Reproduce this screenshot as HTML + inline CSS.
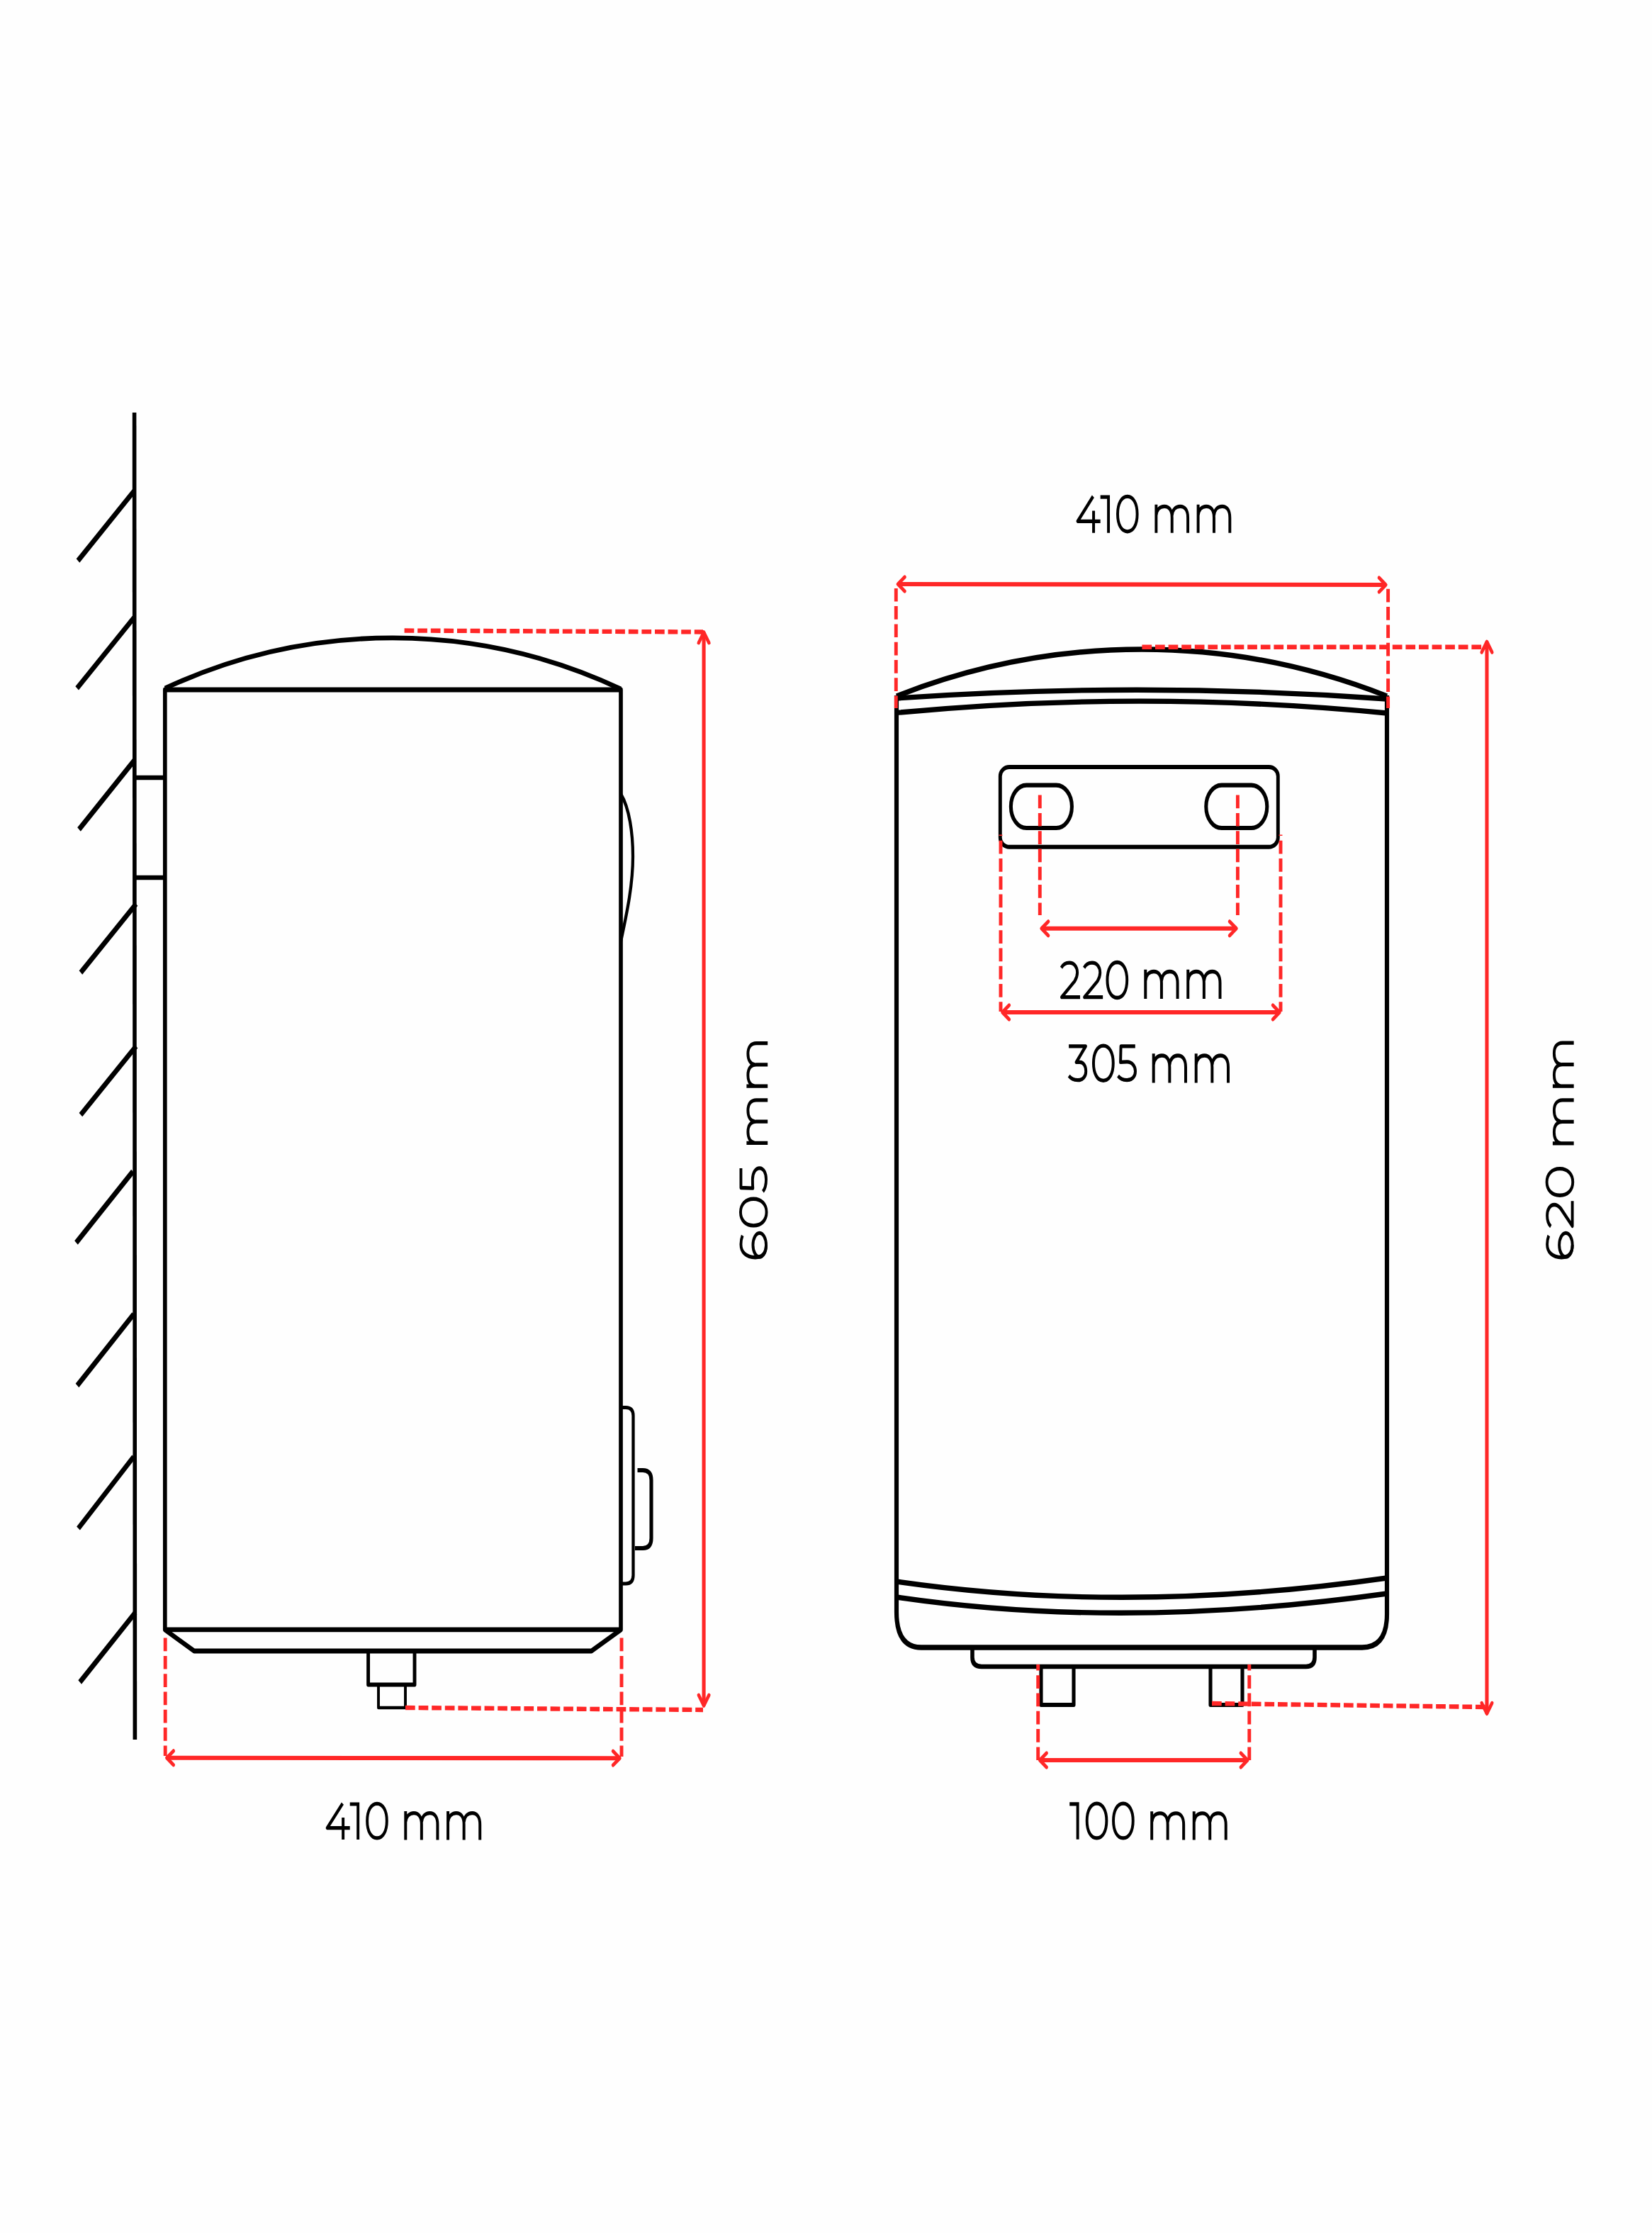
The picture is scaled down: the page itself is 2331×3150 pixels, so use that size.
<!DOCTYPE html>
<html><head><meta charset="utf-8"><title>Water heater dimensions</title>
<style>
html,body{margin:0;padding:0;background:#fefefe;}
svg{display:block;}
.d path,.d rect{fill:none;stroke-linejoin:round;stroke-linecap:butt}
.kw{stroke:#000;stroke-width:5.6}
.kh{stroke:#000;stroke-width:6.4}
.kb{stroke:#000;stroke-width:5.6}
.kl{stroke:#000;stroke-width:5.7}
.kr{stroke:#000;stroke-width:6.15}
.kp{stroke:#000;stroke-width:5.6}
.k4{stroke:#000;stroke-width:4.3}
.k35{stroke:#000;stroke-width:3.9}
.k45{stroke:#000;stroke-width:4.9}
.k5{stroke:#000;stroke-width:5.1}
.rs{stroke:#ff2727;stroke-width:5.1}
.d .ra{stroke:#ff2727;stroke-width:4.4;stroke-linecap:round}
.rdh{stroke:#ff2727;stroke-width:5.3;stroke-dasharray:13.7 4.9}
.rdv{stroke:#ff2727;stroke-width:4.9;stroke-dasharray:15.6 5.48}
.tx{fill:none;stroke:#000;stroke-width:3.95;stroke-linejoin:round;stroke-linecap:butt}
</style></head>
<body>
<svg width="2331" height="3150" viewBox="0 0 2331 3150">
<rect width="2331" height="3150" fill="#fefefe"/>
<g>
<g class="d" transform="scale(1 1.2)">
<path class="kw" d="M 189.6 485 L 190.4 2045"/><path class="kh" d="M 189 577.417 L 110 659.167"/><path class="kh" d="M 189 726.083 L 108.7 809"/><path class="kh" d="M 190 893.333 L 111.5 975"/><path class="kh" d="M 192 1062.667 L 113.9 1143.333"/><path class="kh" d="M 192 1229.833 L 113.9 1310.5"/><path class="kh" d="M 187.5 1377.083 L 107.5 1460.833"/><path class="kh" d="M 188.6 1544.833 L 109 1628.75"/><path class="kh" d="M 188.6 1712.5 L 110.5 1796.667"/><path class="kh" d="M 191 1895.583 L 112.7 1977.5"/><path class="kb" d="M 190 914.167 L 232 914.167 M 190 1031.667 L 232 1031.667"/><path class="kl" d="M 232.8 810.833 L 876 810.833 L 876 1915.667 L 232.8 1915.667 Z"/><path class="kl" d="M 232.8 809.167 A 758.5 632.083 0 0 1 876 810"/><path class="k4" d="M 876 933.333 C 888 950 893 979.167 893 1006.667 C 893 1041.667 884 1075 876 1106.667"/><path class="k4" d="M 876 1654.583 L 883 1654.583 Q 893.5 1654.583 893.5 1664.167 L 893.5 1851.667 Q 893.5 1861.667 883 1861.667 L 876 1861.667"/><path class="k5" d="M 899.5 1728.333 L 907 1728.333 Q 919 1728.333 919 1740 L 919 1808.333 Q 919 1820 907 1820 L 896 1820"/><path class="kl" d="M 232.8 1915.833 L 274 1940.833 L 834.5 1940.833 L 876 1915.833"/><path class="k45" d="M 519.6 1940.833 L 519.6 1980.417 L 585 1980.417 L 585 1940.833"/><path class="k35" d="M 534 1980.417 L 534 2007.5 L 572 2007.5 L 572 1980.417"/><path class="kr" d="M 1265 817.5 L 1265 1895 Q 1265 1936.667 1300 1936.667 L 1922 1936.667 Q 1957 1936.667 1957 1897.5 L 1957 817.5"/><path class="kr" d="M 1265 818.333 A 940 783.333 0 0 1 1957 818.333"/><path class="kr" d="M 1265 820.833 Q 1611 800.833 1957 821.667"/><path class="kr" d="M 1265 837.917 Q 1611 810.417 1957 838.333"/><path class="kr" d="M 1265 1859.167 Q 1590 1898.333 1957 1855"/><path class="kr" d="M 1265 1877.5 Q 1585 1916.667 1957 1873.333"/><path class="kp" d="M 1372 1935 L 1372 1948.333 Q 1372 1959.167 1385 1959.167 L 1843 1959.167 Q 1855 1959.167 1855 1948.333 L 1855 1935"/><path class="k5" d="M 1469 1959.167 L 1469 2004.167 L 1515 2004.167 L 1515 1959.167"/><path class="k5" d="M 1708 1959.167 L 1708 2004.167 L 1753 2004.167 L 1753 1959.167"/><rect class="k45" x="1411.3" y="901.667" width="392" height="94.000" rx="13" ry="10.833"/><rect class="k5" x="1426.4" y="923.000" width="86" height="50.333" rx="22" ry="25.000"/><rect class="k5" x="1701.8" y="923.000" width="86" height="50.333" rx="22" ry="25.000"/>
<path class="rdh" d="M 570.5 741.25 L 992 742.917" stroke-dashoffset="18.500"/><path class="rs" d="M 993.1 743.167 L 993.1 2005.167"/><path class="ra" d="M 985.8 755.667 L 993.1 743.167 L 1000.4 755.667"/><path class="ra" d="M 985.8 1992.667 L 993.1 2005.167 L 1000.4 1992.667"/><path class="rdh" d="M 572 2007.5 L 992 2010" stroke-dashoffset="0.000"/><path class="rdv" d="M 233.2 1925.5 L 233.2 2064.167" stroke-dashoffset="0.000"/><path class="rdv" d="M 877 1925.5 L 877 2065" stroke-dashoffset="0.000"/><path class="rs" d="M 235.3 2066.5 L 874.5 2066.833"/><path class="ra" d="M 244.8 2058.25 L 235.3 2066.5 L 244.8 2074.75"/><path class="ra" d="M 865 2058.583 L 874.5 2066.833 L 865 2075.083"/><path class="rs" d="M 1267 686.667 L 1955.4 687.5"/><path class="ra" d="M 1276.5 678.417 L 1267 686.667 L 1276.5 694.917"/><path class="ra" d="M 1945.9 679.25 L 1955.4 687.5 L 1945.9 695.75"/><path class="rdv" d="M 1264.3 691.667 L 1264.3 832.5" stroke-dashoffset="0.167"/><path class="rdv" d="M 1958.6 692.333 L 1958.6 832.5" stroke-dashoffset="0.000"/><path class="rdh" d="M 1611.4 760.583 L 2096 760.583" stroke-dashoffset="0.000"/><path class="rs" d="M 2098 754.333 L 2098 2014.5"/><path class="ra" d="M 2090.7 766.833 L 2098 754.333 L 2105.3 766.833"/><path class="ra" d="M 2090.7 2002 L 2098 2014.5 L 2105.3 2002"/><path class="rdh" d="M 1710 2002.5 L 2096 2006.667" stroke-dashoffset="0.000"/><path class="rdv" d="M 1467.3 934.667 L 1467.3 1075.833" stroke-dashoffset="0.000"/><path class="rdv" d="M 1746.4 934.667 L 1746.4 1075.833" stroke-dashoffset="0.000"/><path class="rs" d="M 1469.6 1091.5 L 1744.5 1091.5"/><path class="ra" d="M 1479.1 1083.25 L 1469.6 1091.5 L 1479.1 1099.75"/><path class="ra" d="M 1735 1083.25 L 1744.5 1091.5 L 1735 1099.75"/><path class="rdv" d="M 1412 981.25 L 1412 1189.167" stroke-dashoffset="14.250"/><path class="rdv" d="M 1807 981.25 L 1807 1189.167" stroke-dashoffset="14.250"/><path class="rs" d="M 1414.4 1190 L 1805.5 1190"/><path class="ra" d="M 1423.9 1181.75 L 1414.4 1190 L 1423.9 1198.25"/><path class="ra" d="M 1796 1181.75 L 1805.5 1190 L 1796 1198.25"/><path class="rdv" d="M 1464.7 1956.667 L 1464.7 2069.167" stroke-dashoffset="8.417"/><path class="rdv" d="M 1762.8 1956.667 L 1762.8 2069.167" stroke-dashoffset="8.417"/><path class="rs" d="M 1467.2 2069.167 L 1760.3 2069.167"/><path class="ra" d="M 1476.7 2060.917 L 1467.2 2069.167 L 1476.7 2077.417"/><path class="ra" d="M 1750.8 2060.917 L 1760.3 2069.167 L 1750.8 2077.417"/>
</g>
<g class="tx"><g transform="matrix(0 -1.36203 0.98775 0 1043.495 1776.400)"><g transform="translate(0 0)"><ellipse cx="14.8" cy="28.6" rx="12.4" ry="9.4"/><path d="M24.6 4.2 C21.6 2.7 18.6 1.975 15.6 1.975 C7.6 1.975 1.975 9.2 1.975 22.5 C1.975 32.5 6.0 38.0 14.8 38.0"/></g><g transform="translate(32.9 0)"><path d="M15.8 1.4750000000000014 C24.095 1.4750000000000014 29.625 8.885 29.625 20 C29.625 31.115 24.095 38.525 15.8 38.525 C7.505 38.525 1.9749999999999996 31.115 1.9749999999999996 20 C1.9749999999999996 8.885 7.505 1.4750000000000014 15.8 1.4750000000000014 Z"/></g><g transform="translate(68.9 0)"><path d="M25.3 1.975 H5.2 L4.7 19.0 C7.3 18.7 10.8 18.6 13.8 18.6 C20.6 18.6 25.5 23.0 25.5 28.6 C25.5 34.4 20.5 38.0 13.8 38.0 C8.4 38.0 3.9 36.2 1.2 33.4"/></g></g><g transform="matrix(0 -1.34935 0.99333 0 1043.467 1615.000)"><g transform="translate(0 0)"><path d="M1.975 10 V40 M1.975 21.5 C2.9 15.2 7.4 12 13.5 12 C20.4 12 24.4 16 24.4 24 V40 M24.4 21.5 C25.25 15.2 29.75 12 35.85 12 C42.75 12 46.824999999999996 16 46.824999999999996 24 V40"/></g><g transform="translate(59.4 0)"><path d="M1.975 10 V40 M1.975 21.5 C2.9 15.2 7.4 12 13.5 12 C20.4 12 24.4 16 24.4 24 V40 M24.4 21.5 C25.25 15.2 29.75 12 35.85 12 C42.75 12 46.824999999999996 16 46.824999999999996 24 V40"/></g></g><g transform="matrix(0 -1.36013 0.98897 0 2181.146 1776.400)"><g transform="translate(0 0)"><ellipse cx="14.8" cy="28.6" rx="12.4" ry="9.4"/><path d="M24.6 4.2 C21.6 2.7 18.6 1.975 15.6 1.975 C7.6 1.975 1.975 9.2 1.975 22.5 C1.975 32.5 6.0 38.0 14.8 38.0"/></g><g transform="translate(32.1 0)"><path d="M1.9 7.2 C4.2 4 8.2 1.975 13.2 1.975 C19.7 1.975 24.4 6 24.4 12.2 C24.4 15.6 23.1 18.2 20.7 21.2 L2.4 37.9 H28.3"/></g><g transform="translate(64.3 0)"><path d="M15.8 1.4750000000000014 C24.095 1.4750000000000014 29.625 8.885 29.625 20 C29.625 31.115 24.095 38.525 15.8 38.525 C7.505 38.525 1.9749999999999996 31.115 1.9749999999999996 20 C1.9749999999999996 8.885 7.505 1.4750000000000014 15.8 1.4750000000000014 Z"/></g></g><g transform="matrix(0 -1.36044 0.99333 0 2180.967 1615.600)"><g transform="translate(0 0)"><path d="M1.975 10 V40 M1.975 21.5 C2.9 15.2 7.4 12 13.5 12 C20.4 12 24.4 16 24.4 24 V40 M24.4 21.5 C25.25 15.2 29.75 12 35.85 12 C42.75 12 46.824999999999996 16 46.824999999999996 24 V40"/></g><g transform="translate(59.4 0)"><path d="M1.975 10 V40 M1.975 21.5 C2.9 15.2 7.4 12 13.5 12 C20.4 12 24.4 16 24.4 24 V40 M24.4 21.5 C25.25 15.2 29.75 12 35.85 12 C42.75 12 46.824999999999996 16 46.824999999999996 24 V40"/></g></g><g transform="matrix(1.00114 0 0 1.31127 459.700 2542.425)"><g transform="translate(0 0)"><path d="M23.7 1.3 L1.975 27.6 H34 M24.4 16.5 V40"/></g><g transform="translate(34 0)"><path d="M0 1.975 H11.425 M11.425 0 V40"/></g><g transform="translate(56.4 0)"><path d="M15.8 1.4750000000000014 C24.095 1.4750000000000014 29.625 8.885 29.625 20 C29.625 31.115 24.095 38.525 15.8 38.525 C7.505 38.525 1.9749999999999996 31.115 1.9749999999999996 20 C1.9749999999999996 8.885 7.505 1.4750000000000014 15.8 1.4750000000000014 Z"/></g></g><g transform="matrix(1.00647 0 0 1.34667 570.300 2541.533)"><g transform="translate(0 0)"><path d="M1.975 10 V40 M1.975 21.5 C2.9 15.2 7.4 12 13.5 12 C20.4 12 24.4 16 24.4 24 V40 M24.4 21.5 C25.25 15.2 29.75 12 35.85 12 C42.75 12 46.824999999999996 16 46.824999999999996 24 V40"/></g><g transform="translate(59.4 0)"><path d="M1.975 10 V40 M1.975 21.5 C2.9 15.2 7.4 12 13.5 12 C20.4 12 24.4 16 24.4 24 V40 M24.4 21.5 C25.25 15.2 29.75 12 35.85 12 C42.75 12 46.824999999999996 16 46.824999999999996 24 V40"/></g></g><g transform="matrix(0.99886 0 0 1.33088 1518.700 698.532)"><g transform="translate(0 0)"><path d="M23.7 1.3 L1.975 27.6 H34 M24.4 16.5 V40"/></g><g transform="translate(34 0)"><path d="M0 1.975 H11.425 M11.425 0 V40"/></g><g transform="translate(56.4 0)"><path d="M15.8 1.4750000000000014 C24.095 1.4750000000000014 29.625 8.885 29.625 20 C29.625 31.115 24.095 38.525 15.8 38.525 C7.505 38.525 1.9749999999999996 31.115 1.9749999999999996 20 C1.9749999999999996 8.885 7.505 1.4750000000000014 15.8 1.4750000000000014 Z"/></g></g><g transform="matrix(0.99723 0 0 1.33667 1629.400 698.333)"><g transform="translate(0 0)"><path d="M1.975 10 V40 M1.975 21.5 C2.9 15.2 7.4 12 13.5 12 C20.4 12 24.4 16 24.4 24 V40 M24.4 21.5 C25.25 15.2 29.75 12 35.85 12 C42.75 12 46.824999999999996 16 46.824999999999996 24 V40"/></g><g transform="translate(59.4 0)"><path d="M1.975 10 V40 M1.975 21.5 C2.9 15.2 7.4 12 13.5 12 C20.4 12 24.4 16 24.4 24 V40 M24.4 21.5 C25.25 15.2 29.75 12 35.85 12 C42.75 12 46.824999999999996 16 46.824999999999996 24 V40"/></g></g><g transform="matrix(1.00418 0 0 1.34804 1495.598 1355.539)"><g transform="translate(0 0)"><path d="M1.9 7.2 C4.2 4 8.2 1.975 13.2 1.975 C19.7 1.975 24.4 6 24.4 12.2 C24.4 15.6 23.1 18.2 20.7 21.2 L2.4 37.9 H28.3"/></g><g transform="translate(32 0)"><path d="M1.9 7.2 C4.2 4 8.2 1.975 13.2 1.975 C19.7 1.975 24.4 6 24.4 12.2 C24.4 15.6 23.1 18.2 20.7 21.2 L2.4 37.9 H28.3"/></g><g transform="translate(64.6 0)"><path d="M15.8 1.4750000000000014 C24.095 1.4750000000000014 29.625 8.885 29.625 20 C29.625 31.115 24.095 38.525 15.8 38.525 C7.505 38.525 1.9749999999999996 31.115 1.9749999999999996 20 C1.9749999999999996 8.885 7.505 1.4750000000000014 15.8 1.4750000000000014 Z"/></g></g><g transform="matrix(1.00924 0 0 1.37333 1614.300 1354.067)"><g transform="translate(0 0)"><path d="M1.975 10 V40 M1.975 21.5 C2.9 15.2 7.4 12 13.5 12 C20.4 12 24.4 16 24.4 24 V40 M24.4 21.5 C25.25 15.2 29.75 12 35.85 12 C42.75 12 46.824999999999996 16 46.824999999999996 24 V40"/></g><g transform="translate(59.4 0)"><path d="M1.975 10 V40 M1.975 21.5 C2.9 15.2 7.4 12 13.5 12 C20.4 12 24.4 16 24.4 24 V40 M24.4 21.5 C25.25 15.2 29.75 12 35.85 12 C42.75 12 46.824999999999996 16 46.824999999999996 24 V40"/></g></g><g transform="matrix(1.00519 0 0 1.32966 1506.799 1473.182)"><g transform="translate(0 0)"><path d="M1.3 1.975 H25.0 L11.8 19.0 H17.0 C22.0 19.0 25.3 23.2 25.3 28.6 C25.3 34.4 20.6 38.0 14.0 38.0 C8.6 38.0 4.2 36.2 1.4 33.4"/></g><g transform="translate(34 0)"><path d="M15.8 1.4750000000000014 C24.095 1.4750000000000014 29.625 8.885 29.625 20 C29.625 31.115 24.095 38.525 15.8 38.525 C7.505 38.525 1.9749999999999996 31.115 1.9749999999999996 20 C1.9749999999999996 8.885 7.505 1.4750000000000014 15.8 1.4750000000000014 Z"/></g><g transform="translate(69.2 0)"><path d="M25.3 1.975 H5.2 L4.7 19.0 C7.3 18.7 10.8 18.6 13.8 18.6 C20.6 18.6 25.5 23.0 25.5 28.6 C25.5 34.4 20.5 38.0 13.8 38.0 C8.4 38.0 3.9 36.2 1.2 33.4"/></g></g><g transform="matrix(1.01017 0 0 1.37667 1625.700 1472.533)"><g transform="translate(0 0)"><path d="M1.975 10 V40 M1.975 21.5 C2.9 15.2 7.4 12 13.5 12 C20.4 12 24.4 16 24.4 24 V40 M24.4 21.5 C25.25 15.2 29.75 12 35.85 12 C42.75 12 46.824999999999996 16 46.824999999999996 24 V40"/></g><g transform="translate(59.4 0)"><path d="M1.975 10 V40 M1.975 21.5 C2.9 15.2 7.4 12 13.5 12 C20.4 12 24.4 16 24.4 24 V40 M24.4 21.5 C25.25 15.2 29.75 12 35.85 12 C42.75 12 46.824999999999996 16 46.824999999999996 24 V40"/></g></g><g transform="matrix(1.00109 0 0 1.31618 1509.200 2542.226)"><g transform="translate(0 0)"><path d="M0 1.975 H11.425 M11.425 0 V40"/></g><g transform="translate(22.5 0)"><path d="M15.8 1.4750000000000014 C24.095 1.4750000000000014 29.625 8.885 29.625 20 C29.625 31.115 24.095 38.525 15.8 38.525 C7.505 38.525 1.9749999999999996 31.115 1.9749999999999996 20 C1.9749999999999996 8.885 7.505 1.4750000000000014 15.8 1.4750000000000014 Z"/></g><g transform="translate(59.8 0)"><path d="M15.8 1.4750000000000014 C24.095 1.4750000000000014 29.625 8.885 29.625 20 C29.625 31.115 24.095 38.525 15.8 38.525 C7.505 38.525 1.9749999999999996 31.115 1.9749999999999996 20 C1.9749999999999996 8.885 7.505 1.4750000000000014 15.8 1.4750000000000014 Z"/></g></g><g transform="matrix(1.00277 0 0 1.33667 1623.200 2541.933)"><g transform="translate(0 0)"><path d="M1.975 10 V40 M1.975 21.5 C2.9 15.2 7.4 12 13.5 12 C20.4 12 24.4 16 24.4 24 V40 M24.4 21.5 C25.25 15.2 29.75 12 35.85 12 C42.75 12 46.824999999999996 16 46.824999999999996 24 V40"/></g><g transform="translate(59.4 0)"><path d="M1.975 10 V40 M1.975 21.5 C2.9 15.2 7.4 12 13.5 12 C20.4 12 24.4 16 24.4 24 V40 M24.4 21.5 C25.25 15.2 29.75 12 35.85 12 C42.75 12 46.824999999999996 16 46.824999999999996 24 V40"/></g></g></g>
</g>
</svg>
</body></html>
